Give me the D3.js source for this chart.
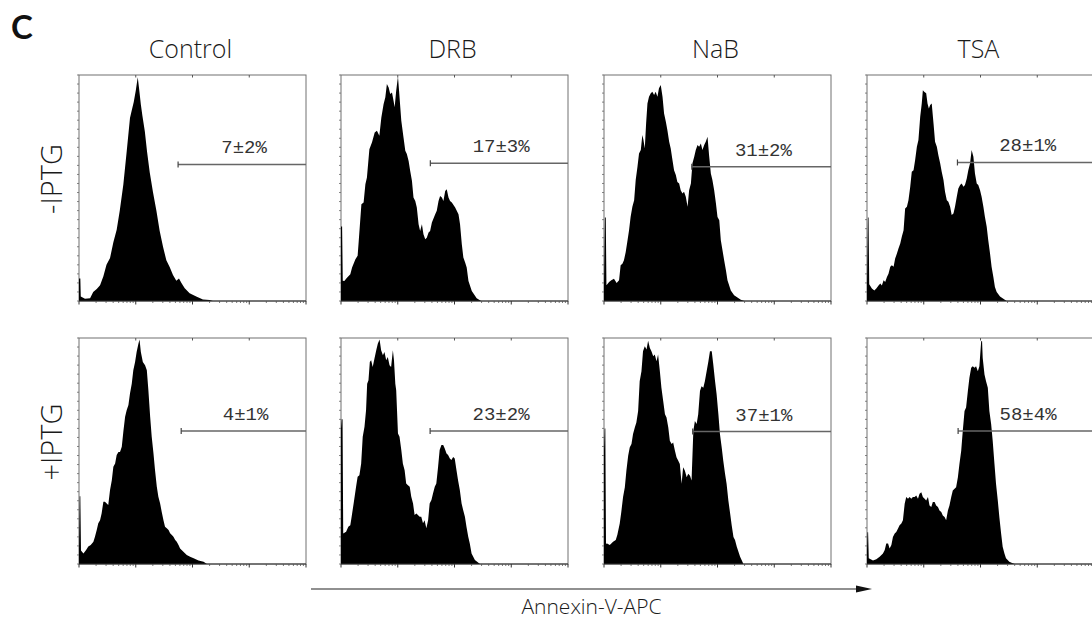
<!DOCTYPE html>
<html>
<head>
<meta charset="utf-8">
<script src="https://cdn.jsdelivr.net/npm/d3@7"></script>
<style>
  html, body { margin: 0; padding: 0; background: #fff; }
  svg { display: block; }
</style>
</head>
<body>
<svg id="chart" width="1092" height="619"></svg>
<script>
// ---------- DATA (channel 0-1023 on 4-decade log amplifier, relative count %) ----------
const treatments = ["Control", "DRB", "NaB", "TSA"];
const conditions = ["-IPTG", "+IPTG"];
const gateLabels = [["7±2%", "17±3%", "31±2%", "28±1%"], ["4±1%", "23±2%", "37±1%", "58±4%"]];
const gateStart = [[447, 403, 396, 408], [461, 402, 400, 411]];
const gateLevel = [[60.4, 60.9, 59.4, 61.3], [58.9, 58.9, 58.6, 58.9]];
const axisTitle = "Annexin-V-APC";
const panelLetter = "C";

const histControlMinus = [[0,10],[6,10],[8,2],[27,1],[50,1.2],[64,4],[80,5.3],[95,7],[110,11],[124,16],[140,19],[155,26],[170,31.5],[184,40],[200,51.5],[214,65],[230,81],[237,84],[247,88],[256,93],[265,99],[271,94],[279,87],[286,82],[297,75],[307,66],[319,57],[334,48],[349,40],[364,31],[379,24],[394,18],[409,15],[424,11.5],[439,9],[451,10],[462,8],[477,5.6],[499,3.4],[529,2],[559,0.7],[589,0.4],[604,0]];
const histDRBMinus = [[0,33],[5,33],[8,9],[15,8.9],[27,10.3],[42,11.8],[50,14.8],[65,18.5],[75,20],[80,26.6],[92,42.8],[102,43.6],[110,51.7],[117,54.6],[128,67.2],[140,70.2],[152,74.6],[162,75.3],[173,73.1],[182,81.2],[192,87.1],[200,90.1],[207,96],[215,94.5],[222,91.6],[230,92.3],[237,88.6],[242,85.7],[249,93],[257,99.3],[263,91.6],[272,79.8],[282,72.4],[290,66.5],[297,65],[305,62],[312,57.6],[320,53.2],[327,45.8],[335,44.3],[342,41.4],[350,34],[357,31],[365,34],[372,29.5],[380,27.3],[387,28],[395,30.3],[402,31],[410,34.7],[425,38.4],[432,39.9],[440,44.3],[447,46.5],[455,45.8],[462,44.3],[470,48.7],[477,49.5],[485,45.8],[492,44.3],[500,43.6],[515,41.4],[530,38.4],[537,34],[545,25.1],[552,19.2],[560,17],[567,14.8],[575,8.9],[590,4.4],[612,1.2],[632,0]];
const histNaBMinus = [[0,8],[4,37],[8,37],[11,7],[23,8.4],[33,9.2],[45,9.9],[57,8],[68,9.2],[75,15.8],[83,16.5],[90,18],[98,21.7],[105,26.1],[113,31.3],[120,37.2],[128,41.7],[136,44.6],[143,53.5],[151,59.4],[158,65.3],[166,66.8],[173,73.4],[178,71.2],[184,67.5],[190,78.6],[196,87.4],[203,90.4],[211,91.9],[218,92.6],[226,91.1],[233,92.6],[241,90.4],[248,94.1],[256,95.6],[264,90.4],[271,83],[279,79.3],[286,75.6],[294,70.5],[301,67.5],[309,62.3],[316,57.9],[324,55.7],[331,52.7],[339,52],[346,49],[354,47.6],[361,48.3],[369,46.1],[377,41.7],[384,49],[392,52],[399,60.9],[407,63.8],[414,66.8],[422,69],[429,68.2],[437,69.7],[444,66.8],[452,69],[459,70.5],[467,72.7],[474,64.5],[482,56.4],[489,53.5],[497,49],[505,43.1],[512,37.2],[520,35.7],[527,26.9],[542,18],[550,13.6],[557,9.2],[572,4.7],[587,2.5],[602,1.5],[617,0.6],[633,0]];
const histTSAMinus = [[0,8],[4,37],[7,37],[10,7.4],[22,5.5],[33,4.7],[42,5.5],[52,6.9],[60,7.7],[67,6.9],[75,9.2],[82,8.4],[90,10.6],[97,12.1],[105,15.1],[112,15.8],[120,15.1],[127,18.8],[135,21],[142,23.2],[150,25.4],[157,28.4],[165,31.3],[172,40.9],[180,41.7],[187,44.6],[195,50.5],[202,57.2],[210,57.9],[217,62.3],[225,68.2],[232,71.2],[240,81.5],[247,87.4],[252,93.3],[258,92.6],[267,91.9],[273,87.4],[279,85.2],[285,86.7],[292,87.4],[300,78.6],[307,70.5],[315,68.2],[322,64.5],[330,60.9],[337,57.2],[345,53.5],[352,48.3],[360,44.6],[367,43.9],[375,41.7],[382,38],[390,38.7],[397,41.7],[405,46.1],[412,49.8],[420,51.3],[427,52],[435,50.5],[442,51.3],[450,54.2],[457,57.9],[465,60.9],[472,66.8],[480,63.8],[487,56.4],[495,52],[502,51.3],[510,49],[517,46.1],[525,41.7],[532,37.2],[540,32.8],[547,26.9],[555,21],[562,15.1],[570,10.6],[577,6.2],[585,4],[600,2],[615,1],[630,0]];
const histControlPlus = [[0,6],[3,30],[6,30],[9,6],[20,4.7],[32,6.2],[42,7.7],[53,8.4],[65,9.9],[72,12.1],[80,15],[87,18],[95,19.4],[102,22.4],[110,27.5],[117,27.5],[125,26.8],[132,26.1],[140,32.7],[148,37.1],[155,43],[163,44.5],[170,48.2],[178,49.6],[185,49.6],[193,51.9],[200,58.5],[208,65.1],[215,68],[223,70.3],[230,75.4],[238,79.8],[245,85.7],[253,89.4],[260,93.8],[268,97.5],[273,99.3],[279,93.8],[288,89.4],[298,87.9],[306,85.7],[313,76.9],[321,65.1],[328,56.3],[336,48.9],[343,41.5],[351,34.2],[358,29.8],[366,26.8],[373,23.1],[381,19.4],[388,16.5],[396,15.8],[404,15],[411,13.6],[419,12.8],[426,12.1],[434,10.6],[441,9.9],[449,8.4],[456,6.9],[471,5.4],[486,4],[501,3.2],[517,2.5],[539,1.5],[562,1],[577,0]];
const histDRBPlus = [[0,60],[3,64],[7,64],[10,13.5],[23,14.3],[33,16.5],[42,17.2],[48,20.9],[57,26.8],[68,34.2],[75,38.6],[83,39.3],[91,44.5],[98,56.3],[106,60.7],[113,68],[118,79.8],[124,81.3],[130,89.4],[136,90.1],[143,87.2],[151,90.9],[159,94.6],[166,97.5],[174,99.3],[181,94.6],[189,92.4],[196,93.8],[204,90.1],[211,91.6],[219,87.9],[226,87.2],[234,94.6],[239,90.1],[245,79.8],[249,76.9],[257,57.7],[264,56.3],[272,50.4],[279,44.5],[287,41.5],[294,35.6],[302,34.9],[310,34.2],[317,29.8],[325,26.8],[332,21.7],[340,22.4],[347,21.7],[355,20.9],[362,20.9],[370,18],[377,19.4],[385,15.8],[393,19.4],[400,26.8],[408,28.3],[415,31.2],[423,34.2],[430,35.6],[438,43],[445,50.4],[453,52.6],[461,52.6],[468,51.1],[476,48.9],[483,48.2],[491,46.7],[498,46],[506,47.4],[513,46.7],[521,41.5],[528,37.1],[536,32.7],[544,26.8],[551,23.9],[559,20.9],[566,16.5],[574,12.1],[581,9.1],[589,4.7],[604,1.8],[627,0]];
const histNaBPlus = [[0,50],[3,60],[6,60],[9,9],[14,9.1],[26,8.4],[41,9.8],[53,10.6],[60,12.8],[71,17.9],[78,23],[86,29.6],[94,34],[101,41.3],[109,47.9],[116,51.6],[124,53.1],[131,57.5],[139,60.4],[146,62.6],[154,67.7],[161,80.9],[169,85.3],[176,94.1],[184,96.3],[192,94.9],[199,98.8],[207,95.6],[214,94.1],[222,91.9],[229,92.7],[237,89.7],[244,92.7],[252,85.3],[259,78],[267,72.1],[275,66.3],[282,64.8],[290,60.4],[297,54.5],[305,53.1],[312,53.8],[320,50.1],[327,47.2],[335,45.7],[342,44.3],[350,35.5],[357,42.8],[365,41.3],[373,38.4],[380,39.9],[388,39.1],[395,36.9],[403,58.9],[410,63.3],[418,61.9],[425,66.3],[433,76.5],[440,78.7],[448,78],[455,80.9],[463,85.3],[471,89.7],[478,94.1],[486,94.1],[493,88.3],[501,80.9],[508,75.1],[516,66.3],[523,57.5],[531,51.6],[538,45.7],[546,39.9],[553,35.5],[561,28.1],[569,22.3],[576,17.2],[584,12],[591,10.6],[599,7.6],[614,3.2],[629,0]];
const histTSAPlus = [[0,6],[2,14],[5,14],[8,2.5],[27,1.5],[42,2.1],[57,3.2],[72,4.7],[80,6.2],[87,9.1],[95,9.1],[102,6.9],[110,8.4],[117,12],[125,13.5],[132,14.2],[140,15.7],[147,17.2],[155,17.9],[162,19.4],[170,26.7],[177,29.6],[185,28.9],[192,29.6],[200,28.9],[207,29.6],[215,29.6],[222,30.3],[230,28.9],[237,31.1],[245,31.8],[252,29.6],[260,28.9],[267,28.1],[275,29.6],[282,25.9],[290,25.2],[297,27.4],[305,27.4],[312,25.9],[320,25.2],[327,23.7],[335,23],[342,21.5],[350,20.8],[357,19.4],[365,23.7],[372,25.9],[380,29.6],[387,32.5],[395,33.3],[402,34],[410,38.4],[417,44.3],[425,50.1],[432,58.9],[440,67.7],[447,69.2],[455,76.5],[462,82.4],[470,86.8],[477,87.5],[485,86.8],[492,87.5],[500,85.3],[507,87.5],[515,98.5],[519,98.8],[522,91.2],[530,83.9],[537,80.9],[545,78],[552,67.7],[560,61.9],[567,54.5],[575,44.3],[582,35.5],[590,28.1],[597,20.8],[605,13.5],[612,7.6],[620,4.7],[627,2.5],[642,1],[657,0.3],[666,0]];

const histograms = [
  [histControlMinus, histDRBMinus, histNaBMinus, histTSAMinus],
  [histControlPlus, histDRBPlus, histNaBPlus, histTSAPlus]
];

// ---------- LAYOUT ----------
const colX = [79, 341, 604, 867];
const rowY = [75, 338];
const pw = 227, ph = 226;

const svg = d3.select("#chart");
const sans = "'Open Sans', 'DejaVu Sans', sans-serif";
const mono = "'Liberation Mono', 'DejaVu Sans Mono', monospace";

const x = d3.scaleLinear().domain([0, 1024]).range([0, pw]);
const y = d3.scaleLinear().domain([0, 100]).range([ph, 0]);

// log-decade tick positions in channel space (256 channels per decade)
const decadeTicks = d3.range(0, 5).map(k => 256 * k);
const minorTicks = [];
for (let k = 0; k < 4; k++) for (let m = 2; m <= 9; m++) minorTicks.push(256 * (k + Math.log10(m)));
const leftTicks = d3.range(0, 101, 4);

// panel letter
svg.append("text").attr("x", 11).attr("y", 39)
  .attr("font-family", "Lato, 'Open Sans', sans-serif").attr("font-weight", 700).attr("font-size", 33)
  .attr("fill", "#111").text(panelLetter);

// column titles
treatments.forEach((t, i) => {
  svg.append("text").attr("x", colX[i] + pw / 2 - 2).attr("y", 58)
    .attr("text-anchor", "middle").attr("font-family", sans).attr("font-size", 25)
    .attr("font-weight", 300).attr("fill", "#1a1a1a").text(t);
});

// row labels
conditions.forEach((c, j) => {
  const cy = rowY[j] + ph / 2 - 9;
  svg.append("text").attr("transform", `translate(62,${cy}) rotate(-90)`)
    .attr("text-anchor", "middle").attr("font-family", sans).attr("font-size", 29)
    .attr("font-weight", 300).attr("fill", "#1a1a1a").text(c);
});

const area = d3.area().x(d => x(d[0])).y0(y(0)).y1(d => y(d[1])).curve(d3.curveLinear);

for (let j = 0; j < 2; j++) {
  for (let i = 0; i < 4; i++) {
    const g = svg.append("g").attr("transform", `translate(${colX[i]},${rowY[j]})`);
    // frame
    g.append("rect").attr("x", 0).attr("y", 0).attr("width", pw).attr("height", ph)
      .attr("fill", "#fff").attr("stroke", "#707070").attr("stroke-width", 1);
    // histogram
    g.append("path").datum(histograms[j][i]).attr("d", area).attr("fill", "#000");
    // bottom axis line
    g.append("line").attr("x1", 0).attr("x2", pw).attr("y1", ph).attr("y2", ph)
      .attr("stroke", "#333").attr("stroke-width", 1);
    // bottom log ticks
    g.selectAll(".mt").data(minorTicks).enter().append("line")
      .attr("x1", d => x(d)).attr("x2", d => x(d)).attr("y1", ph).attr("y2", ph + 2)
      .attr("stroke", "#555").attr("stroke-width", 0.8);
    g.selectAll(".dt").data(decadeTicks).enter().append("line")
      .attr("x1", d => x(d)).attr("x2", d => x(d)).attr("y1", ph).attr("y2", ph + 3.5)
      .attr("stroke", "#333").attr("stroke-width", 1);
    // top decade ticks
    g.selectAll(".tt").data(decadeTicks.slice(1, 4)).enter().append("line")
      .attr("x1", d => x(d)).attr("x2", d => x(d)).attr("y1", 0).attr("y2", 2.5)
      .attr("stroke", "#555").attr("stroke-width", 1);
    // left ticks
    g.selectAll(".lt").data(leftTicks).enter().append("line")
      .attr("x1", -2).attr("x2", 0).attr("y1", d => y(d)).attr("y2", d => y(d))
      .attr("stroke", "#666").attr("stroke-width", 0.8);
    // gate
    const gx = x(gateStart[j][i]), gy = y(gateLevel[j][i]);
    g.append("line").attr("x1", gx).attr("x2", pw).attr("y1", gy).attr("y2", gy)
      .attr("stroke", "#666").attr("stroke-width", 1.5);
    g.append("line").attr("x1", gx).attr("x2", gx).attr("y1", gy - 3).attr("y2", gy + 3)
      .attr("stroke", "#444").attr("stroke-width", 1.2);
    g.append("text").attr("x", (gx + pw) / 2 + 2).attr("y", gy - 11)
      .attr("text-anchor", "middle").attr("font-family", mono).attr("font-size", 19)
      .attr("fill", "#333").text(gateLabels[j][i]);
  }
}

// x-axis arrow
const ax0 = 311, ax1 = 872, ay = 589;
svg.append("line").attr("x1", ax0).attr("x2", ax1 - 14).attr("y1", ay).attr("y2", ay)
  .attr("stroke", "#222").attr("stroke-width", 1.2);
svg.append("path").attr("d", `M${ax1 - 16},${ay - 3.5} L${ax1},${ay} L${ax1 - 16},${ay + 3.5} Z`).attr("fill", "#111");
svg.append("text").attr("x", (ax0 + ax1) / 2).attr("y", 614)
  .attr("text-anchor", "middle").attr("font-family", sans).attr("font-size", 21)
  .attr("font-weight", 300).attr("fill", "#1a1a1a").text(axisTitle);
</script>
</body>
</html>
